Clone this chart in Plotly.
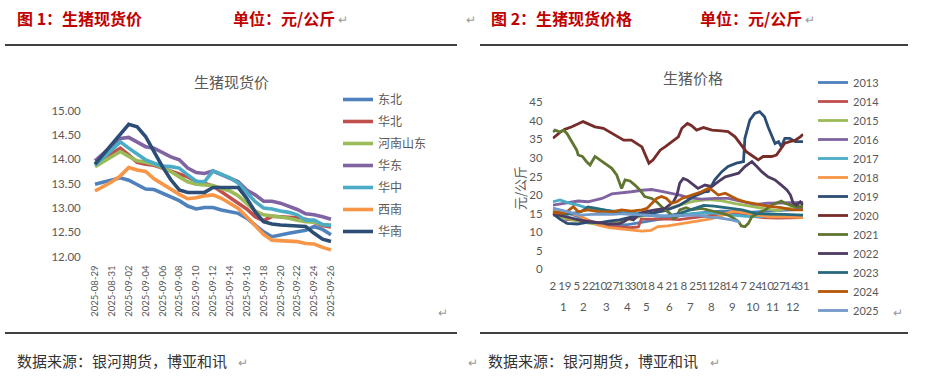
import plotly.graph_objects as go

W, H = 926, 381

def PX(x):
    return x / W

def PY(y):
    return 1 - y / H

# ---------------- Chart 1 data ----------------
dates = ["2025-08-29", "2025-08-30", "2025-08-31", "2025-09-01", "2025-09-02", "2025-09-03",
         "2025-09-04", "2025-09-05", "2025-09-06", "2025-09-07", "2025-09-08", "2025-09-09",
         "2025-09-10", "2025-09-11", "2025-09-12", "2025-09-13", "2025-09-14", "2025-09-15",
         "2025-09-16", "2025-09-17", "2025-09-18", "2025-09-19", "2025-09-20", "2025-09-21",
         "2025-09-22", "2025-09-23", "2025-09-24", "2025-09-25", "2025-09-26"]

regions = ["东北", "华北", "河南山东", "华东", "华中", "西南", "华南"]

dongbei = [13.49, 13.53, 13.58, 13.62, 13.57, 13.48, 13.39, 13.38, 13.31, 13.23, 13.15, 13.04,
           12.98, 13.01, 13.01, 12.96, 12.93, 12.89, 12.79, 12.65, 12.51, 12.41, 12.45, 12.48,
           12.51, 12.54, 12.62, 12.56, 12.45]
huabei = [13.90, 14.01, 14.12, 14.23, 14.09, 13.94, 13.90, 13.88, 13.82, 13.76, 13.71, 13.64,
          13.55, 13.51, 13.45, 13.34, 13.22, 13.10, 12.98, 12.82, 12.74, 12.83, 12.82, 12.81,
          12.80, 12.77, 12.70, 12.64, 12.61]
henan_shandong = [13.85, 13.95, 14.06, 14.16, 14.06, 13.97, 13.94, 13.90, 13.83, 13.75, 13.64, 13.54,
                  13.49, 13.47, 13.46, 13.40, 13.35, 13.25, 13.10, 12.94, 12.86, 12.84, 12.81, 12.79,
                  12.75, 12.72, 12.71, 12.66, 12.65]
huadong = [13.97, 14.12, 14.28, 14.43, 14.45, 14.36, 14.26, 14.23, 14.14, 14.05, 13.99, 13.82,
           13.73, 13.71, 13.76, 13.68, 13.61, 13.54, 13.37, 13.27, 13.14, 13.14, 13.10, 13.03,
           12.97, 12.88, 12.86, 12.82, 12.77]
huazhong = [13.88, 14.04, 14.20, 14.36, 14.23, 14.10, 13.99, 13.92, 13.86, 13.85, 13.82, 13.68,
            13.55, 13.54, 13.76, 13.69, 13.62, 13.51, 13.32, 13.13, 13.00, 12.98, 12.94, 12.91,
            12.86, 12.75, 12.75, 12.66, 12.64]
xinan = [13.35, 13.44, 13.54, 13.66, 13.83, 13.78, 13.75, 13.60, 13.49, 13.38, 13.28, 13.19,
         13.21, 13.25, 13.27, 13.20, 13.10, 12.99, 12.82, 12.65, 12.46, 12.34, 12.33, 12.33,
         12.31, 12.27, 12.26, 12.19, 12.14]
huanan = [13.90, 14.10, 14.31, 14.50, 14.72, 14.67, 14.47, 14.16, 13.85, 13.58, 13.37, 13.32,
          13.32, 13.32, 13.42, 13.42, 13.42, 13.42, 13.20, 12.92, 12.72, 12.67, 12.65, 12.64,
          12.64, 12.62, 12.48, 12.36, 12.31]

region_values = [dongbei, huabei, henan_shandong, huadong, huazhong, xinan, huanan]
y1_ticks = [12.0, 12.5, 13.0, 13.5, 14.0, 14.5, 15.0]

# ---------------- Chart 2 data (x = category index of trading day) ----------------
day_ticks = [0, 17, 34, 51, 68, 85, 102, 119, 136, 153, 170, 187, 204, 221, 238, 255, 272,
             289, 306, 323, 340, 357]
day_labels = ["2", "19", "5", "22", "10", "27", "13", "30", "18", "4", "21", "8", "25", "11",
              "28", "14", "7", "24", "10", "27", "14", "31"]
month_labels = ["1", "2", "3", "4", "5", "6", "7", "8", "9", "10", "11", "12"]
month_pos = [15.7, 44, 76, 106, 134, 166, 196, 226, 256, 286, 314, 343]
y2_ticks = [0, 5, 10, 15, 20, 25, 30, 35, 40, 45]

years = ["2013", "2014", "2015", "2016", "2017", "2018", "2019", "2020", "2021", "2022",
         "2023", "2024", "2025"]

x2013 = [0, 15, 30, 45, 60, 75, 90, 105, 120, 135, 150, 165, 180, 200, 220, 240, 260, 280, 300, 320, 340, 357]
y2013 = [16.3, 15.6, 14.6, 13.6, 12.6, 12.0, 11.8, 12.0, 12.5, 13.0, 13.5, 13.9, 14.4, 15.0, 15.4, 15.7,
         15.6, 15.3, 15.6, 15.8, 16.0, 16.4]

x2014 = [0, 10, 20, 35, 50, 65, 80, 95, 110, 122, 126, 140, 160, 180, 200, 220, 240, 260, 280, 300, 320, 340, 357]
y2014 = [15.5, 14.6, 13.4, 13.4, 13.2, 12.0, 11.5, 11.4, 11.2, 11.4, 13.5, 13.5, 13.6, 13.4, 13.9, 14.5,
         14.9, 14.9, 14.3, 13.9, 13.8, 13.9, 13.9]

x2015 = [0, 20, 40, 60, 80, 100, 120, 140, 160, 180, 200, 220, 240, 260, 280, 300, 320, 340, 357]
y2015 = [14.6, 13.6, 12.8, 12.2, 12.3, 13.0, 14.0, 15.0, 16.0, 17.3, 18.3, 18.8, 18.5, 17.7, 17.0, 16.4,
         15.8, 16.6, 17.2]

x2016 = [0, 17, 36, 50, 70, 84, 98, 112, 127, 141, 155, 169, 181, 193, 212, 231, 250, 269, 288, 307, 326, 346, 357]
y2016 = [17.3, 17.8, 18.4, 18.2, 19.1, 20.3, 20.5, 20.9, 21.3, 21.5, 21.0, 20.5, 20.0, 19.3, 18.9, 19.1,
         19.1, 18.3, 17.5, 17.8, 17.8, 17.8, 18.0]

x2017 = [0, 10, 22, 36, 50, 70, 84, 98, 115, 131, 146, 160, 175, 200, 225, 250, 275, 300, 325, 357]
y2017 = [18.2, 18.7, 17.9, 17.3, 16.4, 16.0, 15.7, 15.5, 15.1, 15.1, 14.4, 14.4, 14.7, 15.0, 15.2, 14.8,
         14.3, 14.2, 14.4, 14.3]

x2018 = [0, 17, 36, 50, 65, 80, 98, 112, 127, 140, 150, 164, 181, 195, 210, 225, 240, 255, 270, 290, 310, 330, 357]
y2018 = [16.0, 15.4, 14.6, 13.3, 11.9, 11.2, 10.8, 10.6, 10.3, 10.5, 11.5, 11.7, 12.2, 12.6, 13.2, 13.6,
         14.4, 15.6, 15.4, 14.6, 14.1, 14.2, 13.9]

x2019 = [0, 10, 20, 35, 50, 65, 80, 95, 110, 125, 140, 160, 180, 195, 205, 217, 222, 231, 241, 250, 262,
         272, 274, 281, 288, 295, 302, 307, 312, 317, 322, 326, 331, 338, 346, 357]
y2019 = [15.0, 13.5, 12.4, 12.2, 12.7, 12.5, 13.0, 13.3, 14.0, 14.6, 15.0, 15.8, 17.2, 18.8, 20.0, 20.9,
         21.0, 24.1, 26.3, 27.7, 28.6, 29.0, 35.3, 40.2, 42.0, 42.5, 41.1, 38.4, 36.2, 33.9, 34.4, 33.0,
         35.3, 35.3, 34.4, 34.4]

x2020 = [0, 10, 17, 27, 43, 60, 72, 84, 101, 112, 127, 134, 137, 143, 153, 160, 170, 179, 184, 192, 198,
         205, 215, 227, 241, 250, 260, 269, 276, 286, 293, 300, 312, 319, 324, 331, 338, 346, 353, 357]
y2020 = [35.3, 36.9, 37.7, 38.4, 39.8, 38.4, 38.0, 36.6, 34.8, 34.8, 33.0, 29.9, 28.6, 29.5, 32.1, 33.0,
         34.4, 35.7, 38.0, 39.3, 38.7, 37.5, 38.2, 37.5, 37.3, 37.1, 35.7, 33.5, 31.7, 30.4, 29.5, 30.4,
         30.4, 30.8, 32.1, 34.0, 34.4, 34.8, 35.7, 36.4]

x2021 = [0, 3, 10, 15, 20, 27, 34, 36, 42, 48, 53, 60, 67, 74, 84, 91, 98, 103, 110, 117, 124, 131, 141,
         148, 153, 160, 167, 172, 177, 181, 190, 198, 212, 222, 241, 250, 257, 265, 269, 274, 279, 284,
         293, 303, 312, 322, 326, 331, 346, 357]
y2021 = [37.0, 37.5, 37.0, 37.5, 36.6, 34.4, 32.1, 30.8, 30.4, 29.0, 28.1, 30.4, 29.5, 28.6, 27.2, 25.4,
         21.8, 24.1, 23.8, 22.7, 21.4, 19.6, 19.1, 18.2, 17.3, 16.0, 15.1, 13.7, 14.2, 16.0, 16.6, 16.0,
         16.4, 16.0, 15.1, 14.6, 13.9, 12.8, 11.7, 11.5, 12.4, 14.2, 15.1, 16.0, 17.3, 18.0, 18.4, 17.8,
         16.9, 16.9]

x2022 = [0, 20, 40, 60, 80, 95, 101, 108, 115, 124, 131, 146, 160, 172, 177, 181, 186, 192, 198, 207, 217,
         227, 236, 246, 255, 265, 274, 284, 291, 298, 307, 317, 326, 334, 339, 343, 348, 353, 357]
y2022 = [15.0, 14.2, 13.2, 12.7, 12.2, 12.3, 12.8, 13.7, 13.3, 15.1, 15.5, 16.0, 16.4, 18.2, 20.0, 23.2,
         24.5, 24.0, 23.2, 21.8, 22.7, 22.3, 23.6, 24.9, 25.4, 25.9, 27.7, 29.0, 27.7, 26.3, 24.9, 24.1,
         22.7, 21.4, 20.0, 17.8, 17.3, 18.2, 17.3]

x2023 = [0, 20, 40, 50, 60, 80, 100, 120, 140, 160, 180, 200, 215, 230, 250, 270, 290, 310, 330, 357]
y2023 = [15.5, 14.8, 15.5, 16.8, 16.5, 15.8, 15.0, 14.8, 14.5, 14.2, 15.0, 16.3, 17.2, 17.0, 16.4, 16.0,
         15.0, 14.8, 14.8, 14.6]

x2024 = [0, 17, 29, 36, 50, 67, 84, 98, 112, 127, 134, 141, 148, 155, 162, 169, 177, 184, 198, 212, 222,
         227, 236, 246, 255, 265, 274, 284, 298, 312, 326, 341, 357]
y2024 = [15.3, 15.1, 16.9, 15.5, 16.0, 15.5, 15.5, 16.0, 15.7, 16.0, 16.4, 17.8, 19.1, 19.6, 19.1, 17.8,
         18.2, 19.1, 20.0, 20.9, 21.8, 21.4, 20.0, 20.5, 19.6, 18.7, 18.2, 17.8, 17.3, 16.9, 16.6, 16.0, 16.0]

x2025 = [0, 10, 25, 40, 55, 70, 85, 100, 115, 130, 145, 160, 175, 190, 205, 215, 225, 235, 245, 255, 262, 267]
y2025 = [16.5, 16.0, 15.2, 14.6, 14.8, 14.9, 14.8, 15.0, 14.8, 14.6, 14.4, 14.3, 14.5, 14.6, 14.6, 14.4,
         14.0, 13.9, 13.7, 13.3, 13.0, 12.6]

year_x = [x2013, x2014, x2015, x2016, x2017, x2018, x2019, x2020, x2021, x2022, x2023, x2024, x2025]
year_y = [y2013, y2014, y2015, y2016, y2017, y2018, y2019, y2020, y2021, y2022, y2023, y2024, y2025]

# ---------------- Styles ----------------
palette = ["#4F81BD", "#C0504D", "#9BBB59", "#8064A2", "#4BACC6", "#F79646",
           "#2C4D75", "#772C2A", "#5F7530", "#4D3B62", "#276A7C", "#B65708", "#729ACA"]
GRAY = "#595959"
NUMFONT = "Lato, 'Noto Sans CJK SC', sans-serif"
CJK = "'Noto Sans CJK SC', sans-serif"

fig = go.Figure()

for name, vals, col in zip(regions, region_values, palette[:7]):
    fig.add_trace(go.Scatter(
        x=dates, y=vals, mode="lines", name=name,
        line=dict(color=col, width=3.6),
        xaxis="x", yaxis="y", legend="legend", legendgroup=name,
    ))

for name, xs, ys, col in zip(years, year_x, year_y, palette):
    fig.add_trace(go.Scatter(
        x=xs, y=ys, mode="lines", name=name,
        line=dict(color=col, width=2.8),
        xaxis="x2", yaxis="y2", legend="legend2", legendgroup=name,
    ))

# ---------------- Text / decorations ----------------
ann = []

def text(x, y, s, size, color, xanchor="left", family=CJK, angle=0, **kw):
    ann.append(dict(x=PX(x), y=PY(y), xref="paper", yref="paper", text=s, showarrow=False,
                    xanchor=xanchor, yanchor="middle", textangle=angle,
                    font=dict(size=size, color=color, family=family), **kw))

RED = "#C00000"
text(15, 18, "<b>图 1：生猪现货价</b>", 16, RED)
text(231, 18, "<b>单位：元/公斤</b>", 16, RED)
text(336, 19, "↵", 12, "#9A9A9A")
text(464, 19, "↵", 12, "#9A9A9A")
text(489, 18, "<b>图 2：生猪现货价格</b>", 16, RED)
text(698, 18, "<b>单位：元/公斤</b>", 16, RED)
text(803, 19, "↵", 12, "#9A9A9A")

text(231, 81, "生猪现货价", 15, GRAY, xanchor="center")
text(693, 77, "生猪价格", 15, GRAY, xanchor="center")
text(520, 188, "元/公斤", 13, GRAY, xanchor="center", angle=-90)

text(436, 311, "↵", 12, "#9A9A9A")
text(891, 311, "↵", 12, "#9A9A9A")

text(15, 360, "数据来源：银河期货，博亚和讯", 15, "#333333")
text(236, 361, "↵", 12, "#9A9A9A")
text(466, 361, "↵", 12, "#9A9A9A")
text(486, 360, "数据来源：银河期货，博亚和讯", 15, "#333333")
text(708, 361, "↵", 12, "#9A9A9A")

for m, p in zip(month_labels, month_pos):
    ann.append(dict(x=p, y=PY(306), xref="x2", yref="paper", text=m, showarrow=False,
                    xanchor="center", yanchor="middle",
                    font=dict(size=11.5, color=GRAY, family=NUMFONT)))

shapes = []
for (x0, x1, y) in [(5, 457, 45), (480, 908, 45), (5, 457, 333), (480, 908, 333)]:
    shapes.append(dict(type="line", xref="paper", yref="paper", x0=PX(x0), x1=PX(x1),
                       y0=PY(y), y1=PY(y), line=dict(color="black", width=1.5)))

fig.update_layout(
    width=W, height=H, autosize=False,
    margin=dict(l=0, r=0, t=0, b=0, autoexpand=False),
    paper_bgcolor="white", plot_bgcolor="white",
    font=dict(family=NUMFONT, color=GRAY),
    annotations=ann, shapes=shapes,
    xaxis=dict(
        type="category", domain=[PX(90.8), PX(335.2)], range=[-0.5, 28.5], anchor="y",
        tickmode="array", tickvals=dates[::2], ticktext=dates[::2], tickangle=-90,
        tickfont=dict(size=9.5, color=GRAY, family=NUMFONT), automargin=False,
        showgrid=False, showline=False, zeroline=False, ticks="", ticklabelstandoff=6,
    ),
    yaxis=dict(
        domain=[PY(256.67), PY(110.67)], range=[12, 15], anchor="x",
        tickmode="array", tickvals=y1_ticks, tickformat=".2f", automargin=False,
        tickfont=dict(size=11.5, color=GRAY, family=NUMFONT),
        showgrid=False, showline=False, zeroline=False, ticks="", ticklabelstandoff=9,
    ),
    xaxis2=dict(
        domain=[PX(552.6), PX(803.4)], range=[-0.5, 357.5], anchor="y2",
        tickmode="array", tickvals=day_ticks, ticktext=day_labels, tickangle=0, automargin=False,
        tickfont=dict(size=11.5, color=GRAY, family=NUMFONT),
        showgrid=False, showline=False, zeroline=False, ticks="", ticklabelstandoff=8,
    ),
    yaxis2=dict(
        domain=[PY(269.3), PY(102.3)], range=[0, 45], anchor="x2", automargin=False,
        tickmode="array", tickvals=y2_ticks,
        tickfont=dict(size=11.5, color=GRAY, family=NUMFONT),
        showgrid=False, showline=False, zeroline=False, ticks="", ticklabelstandoff=9,
    ),
    legend=dict(
        x=PX(338), y=PY(85), xanchor="left", yanchor="top",
        font=dict(size=12, color=GRAY, family=CJK), bgcolor="rgba(0,0,0,0)",
        tracegroupgap=3, itemwidth=30,
    ),
    legend2=dict(
        x=PX(813), y=PY(68), xanchor="left", yanchor="top",
        font=dict(size=11, color=GRAY, family=NUMFONT), bgcolor="rgba(0,0,0,0)",
        tracegroupgap=0, itemwidth=30,
    ),
    showlegend=True,
)

fig.write_html("out.html", config={"displayModeBar": False},
               post_script="document.body.style.margin='0';document.body.style.overflow='hidden';")
